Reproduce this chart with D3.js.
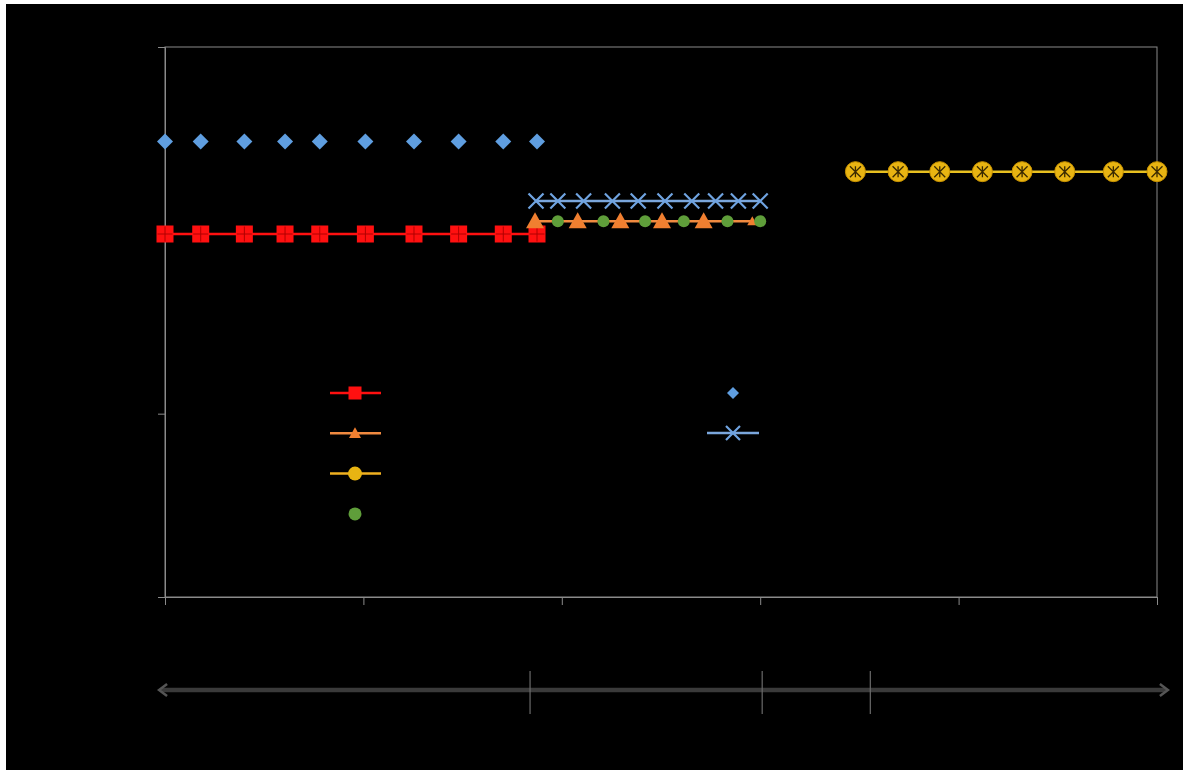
<!DOCTYPE html>
<html>
<head>
<meta charset="utf-8">
<script src="https://cdn.jsdelivr.net/npm/d3@7"></script>
<style>
  html, body { margin: 0; padding: 0; background: #ffffff; }
  svg { display: block; }
</style>
</head>
<body>
<svg id="chart" width="1183" height="770"></svg>
<script>
// Sample positions (x) and levels (y) for each series
const diamondX = [0, 3.6, 8.0, 12.1, 15.6, 20.2, 25.1, 29.6, 34.1, 37.5];
const diamondY = [248.5, 248.5, 248.5, 248.5, 248.5, 248.5, 248.5, 248.5, 248.5, 248.5];

const squareX = [0, 3.6, 8.0, 12.1, 15.6, 20.2, 25.1, 29.6, 34.1, 37.5];
const squareY = [198, 198, 198, 198, 198, 198, 198, 198, 198, 198];

const crossX = [37.4, 39.6, 42.2, 45.1, 47.7, 50.4, 53.1, 55.5, 57.8, 60.0];
const crossY = [216, 216, 216, 216, 216, 216, 216, 216, 216, 216];

const triangleX = [37.3, 41.6, 45.9, 50.1, 54.3, 59.2];
const triangleY = [205, 205, 205, 205, 205, 205];

const greenX = [39.6, 44.2, 48.4, 52.3, 56.7, 60.0];
const greenY = [205, 205, 205, 205, 205, 205];

const yellowX = [69.6, 73.9, 78.1, 82.4, 86.4, 90.7, 95.6, 100];
const yellowY = [232, 232, 232, 232, 232, 232, 232, 232];

const xTicks = [0, 20, 40, 60, 80, 100];
const yTicks = [0, 100, 200, 300];

// Phase boundaries along the timeline under the chart
const phaseEnds = [-0.8, 101.3];
const phaseBreaks = [36.8, 60.2, 71.1];

const svg = d3.select("#chart");
const W = 1183, H = 770;

// dark canvas with a thin white edge on top/left
svg.append("rect").attr("x", 6).attr("y", 4).attr("width", W - 6).attr("height", H - 4).attr("fill", "#000");

const m = { left: 165, top: 47, right: 1157, bottom: 597 };
const x = d3.scaleLinear().domain([0, 100]).range([m.left, m.right]);
const y = d3.scaleLinear().domain([0, 300]).range([m.bottom, m.top]);

const axisColor = "#8a8a8a";

// plot frame
svg.append("rect")
  .attr("x", m.left).attr("y", m.top)
  .attr("width", m.right - m.left).attr("height", m.bottom - m.top)
  .attr("fill", "none").attr("stroke", axisColor).attr("stroke-width", 1);

// axes (labels drawn in the chart's black text colour)
const xAxis = svg.append("g").attr("transform", `translate(0,${m.bottom})`)
  .call(d3.axisBottom(x).tickValues(xTicks).tickSize(8).tickPadding(6));
const yAxis = svg.append("g").attr("transform", `translate(${m.left},0)`)
  .call(d3.axisLeft(y).tickValues(yTicks).tickSize(7).tickPadding(6));
[xAxis, yAxis].forEach(g => {
  g.selectAll("path").attr("stroke", axisColor);
  g.selectAll("line").attr("stroke", axisColor);
  g.selectAll("text").attr("fill", "#000").attr("font-family", "Arial, Liberation Sans, sans-serif").attr("font-size", 14);
});

const line = d3.line().x(d => x(d[0])).y(d => y(d[1]));
const zip = (a, b) => a.map((v, i) => [v, b[i]]);

// marker helpers
function diamond(g, cx, cy, r, fill) {
  g.append("path").attr("d", `M${cx},${cy - r}L${cx + r},${cy}L${cx},${cy + r}L${cx - r},${cy}Z`).attr("fill", fill);
}
function square(g, cx, cy, s) {
  g.append("rect").attr("x", cx - s / 2).attr("y", cy - s / 2).attr("width", s).attr("height", s).attr("fill", "#ff1010");
  g.append("path").attr("d", `M${cx - s / 2 + 1},${cy}H${cx + s / 2 - 1}M${cx},${cy - s / 2 + 1}V${cy + s / 2 - 1}`)
    .attr("stroke", "#b00000").attr("stroke-width", 1);
}
function xMark(g, cx, cy, r, col) {
  g.append("path").attr("d", `M${cx - r},${cy - r}L${cx + r},${cy + r}M${cx - r},${cy + r}L${cx + r},${cy - r}`)
    .attr("stroke", col).attr("stroke-width", 2.2);
}
function triangle(g, cx, cy, r, fill) {
  g.append("path").attr("d", `M${cx},${cy - r}L${cx + r},${cy + r * 0.8}L${cx - r},${cy + r * 0.8}Z`).attr("fill", fill);
}
function dot(g, cx, cy, r, fill) {
  g.append("circle").attr("cx", cx).attr("cy", cy).attr("r", r).attr("fill", fill);
}
function starDot(g, cx, cy, r) {
  g.append("circle").attr("cx", cx).attr("cy", cy).attr("r", r).attr("fill", "#e8b412").attr("stroke", "#c89200").attr("stroke-width", 1);
  const k = r * 0.55;
  g.append("path").attr("d", `M${cx},${cy - k}V${cy + k}M${cx - k},${cy - k}L${cx + k},${cy + k}M${cx - k},${cy + k}L${cx + k},${cy - k}`)
    .attr("stroke", "#3a2a00").attr("stroke-width", 1.3);
}

const plot = svg.append("g");

// blue diamonds (markers only)
zip(diamondX, diamondY).forEach(d => diamond(plot, x(d[0]), y(d[1]), 8, "#5f9ee0"));

// red squares with line
plot.append("path").datum(zip(squareX, squareY)).attr("d", line).attr("fill", "none").attr("stroke", "#ff1010").attr("stroke-width", 2.5);
zip(squareX, squareY).forEach(d => square(plot, x(d[0]), y(d[1]), 17));

// blue crosses with line
plot.append("path").datum(zip(crossX, crossY)).attr("d", line).attr("fill", "none").attr("stroke", "#7aa6dc").attr("stroke-width", 2.5);
zip(crossX, crossY).forEach(d => xMark(plot, x(d[0]), y(d[1]), 7.5, "#6fa3e0"));

// orange triangles with line
plot.append("path").datum(zip(triangleX, triangleY)).attr("d", line).attr("fill", "none").attr("stroke", "#f08a40").attr("stroke-width", 2.5);
zip(triangleX, triangleY).forEach((d, i) => triangle(plot, x(d[0]), y(d[1]), i === triangleX.length - 1 ? 5 : 9, "#f07f30"));

// green circles (markers only)
zip(greenX, greenY).forEach(d => dot(plot, x(d[0]), y(d[1]), 6, "#5f9e3a"));

// yellow circles with line
plot.append("path").datum(zip(yellowX, yellowY)).attr("d", line).attr("fill", "none").attr("stroke", "#e8c020").attr("stroke-width", 2.5);
zip(yellowX, yellowY).forEach(d => starDot(plot, x(d[0]), y(d[1]), 10));

// legend
const leg = svg.append("g");
const legLeft = [
  { kind: "square", line: "#ff1010" },
  { kind: "triangle", line: "#f08a40" },
  { kind: "circle", line: "#f0b020" },
  { kind: "green", line: null }
];
legLeft.forEach((it, i) => {
  const cy = 393 + i * 40.3, cx = 355;
  if (it.line) leg.append("line").attr("x1", cx - 25).attr("x2", cx + 26).attr("y1", cy).attr("y2", cy).attr("stroke", it.line).attr("stroke-width", 2.5);
  if (it.kind === "square") leg.append("rect").attr("x", cx - 6.5).attr("y", cy - 6.5).attr("width", 13).attr("height", 13).attr("fill", "#ff1010");
  if (it.kind === "triangle") triangle(leg, cx, cy, 6, "#f07f30");
  if (it.kind === "circle") dot(leg, cx, cy, 7, "#e8b412");
  if (it.kind === "green") dot(leg, cx, cy, 6.5, "#5f9e3a");
});
diamond(leg, 733, 393, 6, "#5f9ee0");
leg.append("line").attr("x1", 707).attr("x2", 759).attr("y1", 433).attr("y2", 433).attr("stroke", "#7aa6dc").attr("stroke-width", 2.5);
xMark(leg, 733, 433, 7, "#6fa3e0");

// timeline arrow under the axis
const tl = svg.append("g");
const ty = 690;
const tx0 = x(phaseEnds[0]), tx1 = x(phaseEnds[1]);
tl.append("line").attr("x1", tx0 + 4).attr("x2", tx1 - 4).attr("y1", ty).attr("y2", ty).attr("stroke", "#3a3a3a").attr("stroke-width", 4.5);
tl.append("path").attr("d", `M${tx0 + 10},${ty - 6}L${tx0 + 2},${ty}L${tx0 + 10},${ty + 6}`).attr("fill", "none").attr("stroke", "#555").attr("stroke-width", 2.5);
tl.append("path").attr("d", `M${tx1 - 10},${ty - 6}L${tx1 - 2},${ty}L${tx1 - 10},${ty + 6}`).attr("fill", "none").attr("stroke", "#555").attr("stroke-width", 2.5);
phaseBreaks.forEach(b => {
  tl.append("line").attr("x1", x(b)).attr("x2", x(b)).attr("y1", ty - 19).attr("y2", ty + 24).attr("stroke", "#6a6a6a").attr("stroke-width", 1.2);
});
</script>
</body>
</html>
